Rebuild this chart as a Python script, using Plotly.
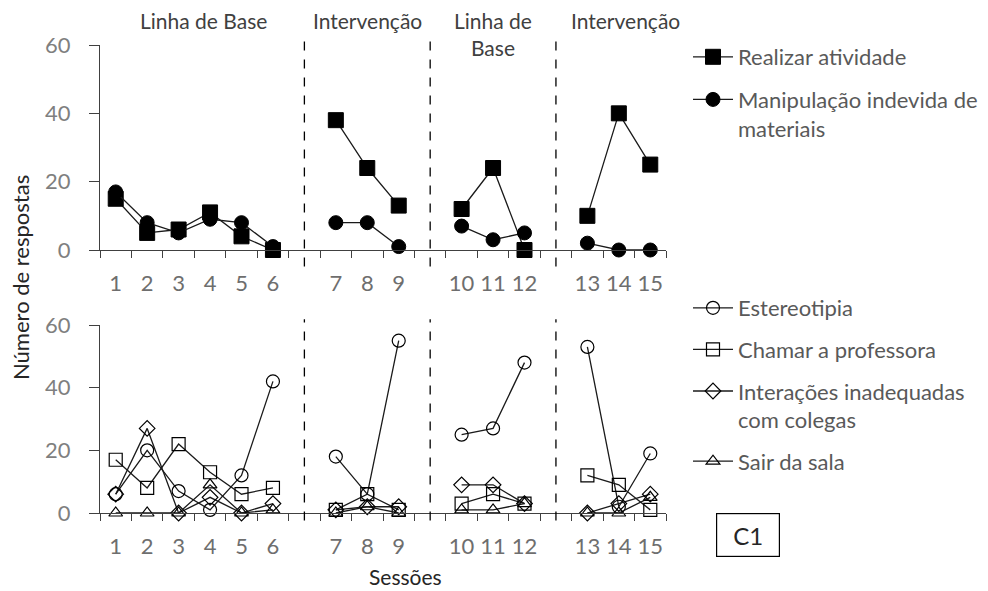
import plotly.graph_objects as go

# ---- data ----
sessions = list(range(1, 16))
phase_of_session = [0, 0, 0, 0, 0, 0, 1, 1, 1, 2, 2, 2, 3, 3, 3]
phase_names = ["Linha de Base", "Intervenção", "Linha de<br>Base", "Intervenção"]

realizar = [15, 5, 6, 11, 4, 0, 38, 24, 13, 12, 24, 0, 10, 40, 25]
manipulacao = [17, 8, 5, 9, 8, 1, 8, 8, 1, 7, 3, 5, 2, 0, 0]

estereotipia = [6, 20, 7, 1, 12, 42, 18, 6, 55, 25, 27, 48, 53, 2, 19]
chamar = [17, 8, 22, 13, 6, 8, 1, 6, 1, 3, 6, 3, 12, 9, 1]
interacoes = [6, 27, 0, 5, 0, 3, 1, 2, 2, 9, 9, 3, 0, 3, 6]
sair = [0, 0, 0, 9, 0, 1, 0, 2, 0, 1, 1, 3, 0, 0, 5]

y_ticks = [0, 20, 40, 60]

# slot positions: one empty slot between phases
pos = [(s - 1) + p for s, p in zip(sessions, phase_of_session)]
n_slots = pos[-1] + 1
gap_slots = [s for s in range(n_slots) if s not in pos]


def broken(values):
    xs, ys = [], []
    for i, v in enumerate(values):
        if i > 0 and phase_of_session[i] != phase_of_session[i - 1]:
            xs.append(None)
            ys.append(None)
        xs.append(pos[i])
        ys.append(v)
    return xs, ys


W, H = 988, 591
OFF = 8  # page offset of the figure
FONT = "Lato"
LINE = dict(color="#1a1a1a", width=1.3)
AX = "#404040"
TICKC = "#6e6e6e"


def px(x):
    return (x - OFF) / W


def py(y):
    return (H - (y - OFF)) / H


fig = go.Figure()

top_series = [
    ("Realizar atividade", realizar, "square", 15),
    ("Manipulação indevida de<br>materiais", manipulacao, "circle", 14),
]
for i, (name, vals, sym, size) in enumerate(top_series):
    xs, ys = broken(vals)
    fig.add_trace(go.Scatter(
        x=xs, y=ys, mode="lines+markers", name=name,
        line=LINE, marker=dict(symbol=sym, size=size, color="black",
                               line=dict(color="black", width=1)),
        xaxis="x", yaxis="y", cliponaxis=False,
        legend="legend", legendgroup="t%d" % i,
    ))

bottom_series = [
    ("Estereotipia", estereotipia, "circle-open", 13),
    ("Chamar a professora", chamar, "square-open", 13),
    ("Interações inadequadas<br>com colegas", interacoes, "diamond-open", 12),
    ("Sair da sala", sair, "triangle-up-open", 12),
]
for i, (name, vals, sym, size) in enumerate(bottom_series):
    xs, ys = broken(vals)
    fig.add_trace(go.Scatter(
        x=xs, y=ys, mode="lines+markers", name=name,
        line=LINE, marker=dict(symbol=sym, size=size, color="black",
                               line=dict(color="black", width=1.2)),
        xaxis="x2", yaxis="y2", cliponaxis=False,
        legend="legend2", legendgroup="b%d" % i,
    ))

xaxis_common = dict(
    range=[-0.5, n_slots - 0.5],
    tickmode="array", tickvals=pos, ticktext=[str(s) for s in sessions],
    ticks="", showline=True, linecolor=AX, linewidth=1.3,
    showgrid=False, zeroline=False, automargin=False,
    ticklabelstandoff=13,
    tickfont=dict(family=FONT, size=22, color=TICKC),
    minor=dict(tickmode="array", tickvals=[k - 0.5 for k in range(n_slots + 1)],
               ticks="outside", ticklen=7, tickcolor=AX, tickwidth=1.3,
               showgrid=False),
    domain=[px(100), px(666)],
)
yaxis_common = dict(
    range=[0, 60], tickmode="array", tickvals=y_ticks,
    ticks="outside", ticklen=10, tickcolor=AX, tickwidth=1.3,
    showline=True, linecolor=AX, linewidth=1.3,
    showgrid=False, zeroline=False, automargin=False,
    ticklabelstandoff=14,
    tickfont=dict(family=FONT, size=22, color="#7f7f7f"),
)

fig.update_layout(
    width=W, height=H,
    margin=dict(l=0, r=0, t=0, b=0, autoexpand=False),
    paper_bgcolor="white", plot_bgcolor="white",
    xaxis=dict(**xaxis_common, anchor="y"),
    yaxis=dict(**yaxis_common, anchor="x", domain=[py(250), py(45)]),
    xaxis2=dict(**xaxis_common, anchor="y2"),
    yaxis2=dict(**yaxis_common, anchor="x2", domain=[py(513), py(325)]),
    showlegend=True,
    legend=dict(x=px(688), y=py(36), xanchor="left", yanchor="top",
                font=dict(family=FONT, size=22, color="#595959"),
                bgcolor="rgba(0,0,0,0)", itemwidth=40, tracegroupgap=11,
                valign="top", traceorder="grouped"),
    legend2=dict(x=px(688), y=py(287), xanchor="left", yanchor="top",
                 font=dict(family=FONT, size=22, color="#595959"),
                 bgcolor="rgba(0,0,0,0)", itemwidth=40, tracegroupgap=10,
                 valign="top", traceorder="grouped"),
    font=dict(family=FONT),
)

# phase dividers
for g in gap_slots:
    fig.add_shape(type="line", xref="x", yref="y domain", x0=g, x1=g,
                  y0=-0.08, y1=1.02, line=dict(color="black", width=1.3, dash="dash"))
    fig.add_shape(type="line", xref="x2", yref="y2 domain", x0=g, x1=g,
                  y0=-0.04, y1=1.03, line=dict(color="black", width=1.3, dash="dash"))

# phase labels
label_shift = [0.3, 0.0, 0.0, 0.2]
for p, name in enumerate(phase_names):
    ps = [pos[i] for i in range(len(sessions)) if phase_of_session[i] == p]
    cx = (ps[0] + ps[-1]) / 2 + label_shift[p]
    fig.add_annotation(x=cx, xref="x", y=py(6), yref="paper",
                       text=name, showarrow=False, xanchor="center", yanchor="top",
                       font=dict(family=FONT, size=21, color="#404040"))

fig.add_annotation(x=px(20), y=py(278), xref="paper", yref="paper",
                   text="Número de respostas", textangle=-90, showarrow=False,
                   xanchor="center", yanchor="middle",
                   font=dict(family=FONT, size=22, color="#262626"))
fig.add_annotation(x=px(405), y=py(576), xref="paper", yref="paper",
                   text="Sessões", showarrow=False, xanchor="center", yanchor="middle",
                   font=dict(family=FONT, size=21, color="#262626"))
fig.add_annotation(x=px(748), y=py(535), xref="paper", yref="paper",
                   text="C1", showarrow=False, width=58, height=38, borderpad=2,
                   xanchor="center", yanchor="middle",
                   bordercolor="black", borderwidth=1.2,
                   font=dict(family=FONT, size=24, color="#262626"))

fig.write_html("out.html")
